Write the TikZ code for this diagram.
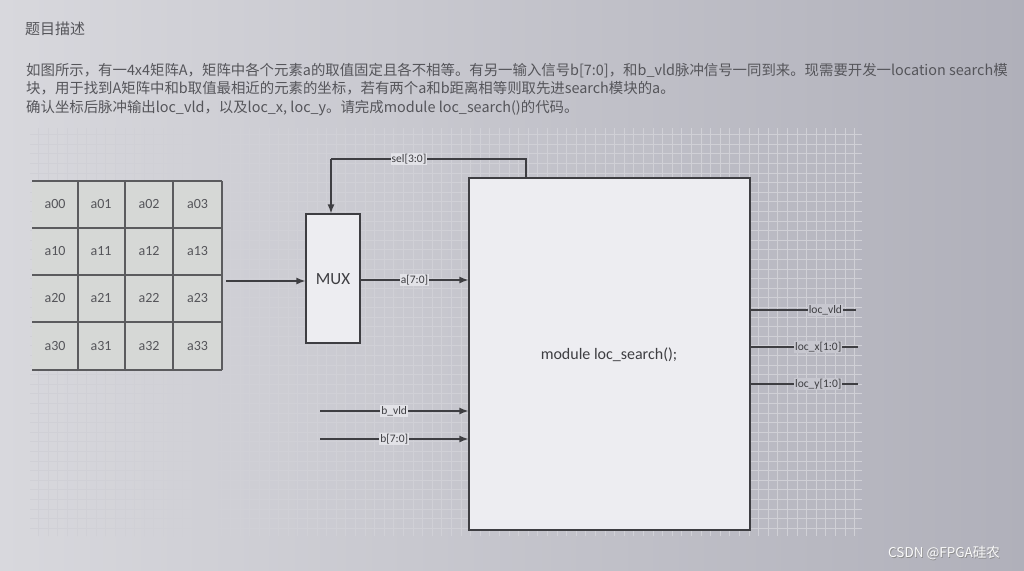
\documentclass[tikz,border=0pt]{standalone}
\usepackage{fontspec}
\setmainfont{Carlito}
\newfontfamily\cjk{Noto Sans CJK SC}
\usetikzlibrary{arrows.meta}
\definecolor{bgmid}{RGB}{230,230,235}
\definecolor{bgleft}{RGB}{216,216,221}
\definecolor{bgright}{RGB}{176,176,186}
\definecolor{gridc}{RGB}{208,208,214}
\definecolor{ink}{RGB}{62,62,66}
\definecolor{txt}{RGB}{85,85,90}
\definecolor{cellc}{RGB}{214,216,214}
\definecolor{labbg}{RGB}{226,226,231}
\definecolor{labbgr}{RGB}{199,199,207}
\tikzset{
  wire/.style={draw=ink, line width=1.4pt},
  arr/.style={wire, -{Latex[length=9pt,width=7pt]}},
  lab/.style={fill=labbg, inner sep=1pt, text=ink, font=\fontsize{11.5}{13}\selectfont},
  labr/.style={lab, fill=labbgr},
  blk/.style={draw=ink, line width=1.2pt, fill=bgmid!70!white, rectangle, inner sep=0pt},
  cell/.style={minimum width=47pt, minimum height=47pt, inner sep=0pt, text=txt, font=\fontsize{14}{16}\selectfont},
  para/.style={anchor=base west, inner sep=0pt, text=txt, font=\cjk\fontsize{14.4}{17}\selectfont}
}
\begin{document}
\begin{tikzpicture}[x=1pt,y=-1pt]
\useasboundingbox (0,0) rectangle (1024,570);
\shade[left color=bgleft, middle color=bgmid, right color=bgright] (0,0) rectangle (1024,570);
% grid
\draw[gridc, line width=0.3pt, step=9.6pt] (30,128) grid (862,536);
% heading text
\node[para, font=\cjk\fontsize{15}{17}\selectfont] (title) at (25,34) {题目描述};
\node[para] (l1) at (26,75) {如图所示，有一4x4矩阵A，矩阵中各个元素a的取值固定且各不相等。有另一输入信号b[7:0]，和b\_vld脉冲信号一同到来。现需要开发一location search模};
\node[para] (l2) at (26,93) {块，用于找到A矩阵中和b取值最相近的元素的坐标，若有两个a和b距离相等则取先进search模块的a。};
\node[para] (l3) at (26,112) {确认坐标后脉冲输出loc\_vld，以及loc\_x, loc\_y。请完成module loc\_search()的代码。};
% matrix
\fill[cellc] (32,181) rectangle (222,370);
\foreach \r/\yy in {0/204.5,1/251.5,2/298.5,3/346}{
  \foreach \c/\xx in {0/55,1/101,2/149,3/197.5}{
    \node[cell] (c\r\c) at (\xx,\yy) {a\r\c};
  }
}
\foreach \yy in {181,228,275,322,370} \draw[ink!85, line width=1.1pt] (32,\yy) -- (222,\yy);
\foreach \xx in {78,125,173,222} \draw[ink!85, line width=1.1pt] (\xx,181) -- (\xx,370);
% blocks
\node[blk, minimum width=54pt, minimum height=129pt] (mux) at (333,278.5) {};
\node[text=ink, font=\fontsize{17}{19}\selectfont] (muxt) at (333,279) {MUX};
\node[blk, minimum width=281pt, minimum height=352pt] (mod) at (609.5,354) {};
\node[text=ink, font=\fontsize{16}{18}\selectfont] (modt) at (609,355) {module loc\_search();};
% connectors
\coordinate (mout) at (226,281);
\draw[arr] (mout) -- (mux.west |- mout);
\draw[arr] (mux.east |- 0,280) -- (mod.west |- 0,280) node[lab, pos=0.5] {a[7:0]};
\coordinate (selr) at (526,159);
\coordinate (sell) at (331,159);
\draw[wire] (mod.north -| selr) -- (selr) -- (sell) node[lab, pos=0.6] {sel[3:0]};
\draw[arr] (sell) -- (mux.north -| sell);
\coordinate (bv) at (320,411);
\draw[arr] (bv) -- (mod.west |- bv) node[lab, pos=0.5] {b\_vld};
\coordinate (bd) at (320,439);
\draw[arr] (bd) -- (mod.west |- bd) node[lab, pos=0.5] {b[7:0]};
\coordinate (ov) at (856,310);
\draw[wire] (mod.east |- ov) -- (ov) node[labr, pos=0.71] {loc\_vld};
\coordinate (ox) at (858,347);
\draw[wire] (mod.east |- ox) -- (ox) node[labr, pos=0.63] {loc\_x[1:0]};
\coordinate (oy) at (858,384);
\draw[wire] (mod.east |- oy) -- (oy) node[labr, pos=0.63] {loc\_y[1:0]};
% watermark
\node[text=black!45, font=\cjk\fontsize{13.5}{15}\selectfont] (wm2) at (944.8,553.8) {CSDN @FPGA硅农};
\node[text=white!96!gray, font=\cjk\fontsize{13.5}{15}\selectfont] (wm) at (944,553) {CSDN @FPGA硅农};
\end{tikzpicture}
\end{document}
